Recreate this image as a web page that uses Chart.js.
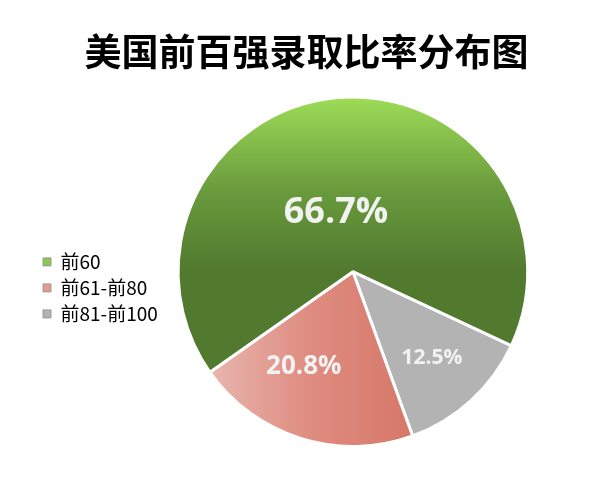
<!DOCTYPE html>
<html>
<head>
<meta charset="utf-8">
<script src="https://cdn.jsdelivr.net/npm/chart.js@4.4.1/dist/chart.umd.min.js"></script>
<style>
  body { margin: 0; background: #fff; }
  #wrap { width: 610px; height: 479px; }
</style>
</head>
<body>
<div id="wrap"><canvas id="myChart"></canvas></div>
<script>
// legend order
const labels = ["前60", "前61-前80", "前81-前100"];
const values = [66.7, 20.8, 12.5];
const legendColors = ["#8cc84e", "#e39a90", "#b3b3b3"];

// Excel draws these counter-clockwise, so feed them reversed
const drawLabels = labels.slice().reverse();
const drawValues = values.slice().reverse();
const drawLegend = legendColors.slice().reverse();

// label spots: fraction of radius, angle shift (deg)
const labelSpots = [[0.67, 0], [0.61, 10], [0.35, -11]];
const labelFonts = [21, 26, 36];

const ctx = document.getElementById("myChart").getContext("2d");

function sliceColor(context) {
  const chart = context.chart;
  const area = chart.chartArea;
  if (!area) return "#b3b3b3";
  const c = chart.ctx;
  const i = context.dataIndex;
  if (i === 0) return "#b3b3b3";
  if (i === 1) {
    const g = c.createLinearGradient(205, 0, 410, 0);
    g.addColorStop(0, "#e9b7b1");
    g.addColorStop(0.5, "#df8d81");
    g.addColorStop(1, "#d6786a");
    return g;
  }
  const g = c.createLinearGradient(0, area.top, 0, area.top + 175);
  g.addColorStop(0, "#9edd58");
  g.addColorStop(0.55, "#699a3c");
  g.addColorStop(1, "#517a2e");
  return g;
}

// title sits over the whole canvas, not just the padded part
const wideTitle = {
  id: "wideTitle",
  afterLayout(chart) {
    chart.titleBlock.left = 3;
    chart.titleBlock.right = chart.width;
  }
};

const pieLabels = {
  id: "pieLabels",
  afterDatasetsDraw(chart) {
    const c = chart.ctx;
    const meta = chart.getDatasetMeta(0);
    meta.data.forEach((arc, i) => {
      const p = arc.getProps(["x", "y", "startAngle", "endAngle", "outerRadius"], true);
      const mid = (p.startAngle + p.endAngle) / 2 + labelSpots[i][1] * Math.PI / 180;
      const r = p.outerRadius * labelSpots[i][0];
      c.save();
      c.fillStyle = "#f2f2f2";
      c.font = "bold " + labelFonts[i] + "px 'Open Sans', 'Noto Sans', sans-serif";
      c.textAlign = "center";
      c.textBaseline = "middle";
      c.fillText(drawValues[i].toFixed(1) + "%", p.x + Math.cos(mid) * r, p.y + Math.sin(mid) * r);
      c.restore();
    });
  }
};

const data = {
  labels: drawLabels,
  datasets: [{
    data: drawValues,
    backgroundColor: sliceColor,
    borderColor: "#ffffff",
    borderWidth: 3,
    hoverOffset: 0
  }]
};

const config = {
  type: "pie",
  data: data,
  plugins: [wideTitle, pieLabels],
  options: {
    responsive: true,
    maintainAspectRatio: false,
    animation: false,
    rotation: 115,
    layout: { padding: { left: 36, right: 72, top: 0, bottom: 31 } },
    plugins: {
      tooltip: { enabled: false },
      title: {
        display: true,
        text: "美国前百强录取比率分布图",
        color: "#000",
        font: { family: "'Noto Sans CJK SC'", size: 37, weight: "bold" },
        padding: { top: 30, bottom: 21 }
      },
      legend: {
        position: "left",
        align: "start",
        reverse: true,
        title: { display: true, text: "", font: { size: 12 }, padding: { top: 231, bottom: 0 } },
        labels: {
          boxWidth: 8,
          boxHeight: 8,
          padding: 7,
          color: "#000",
          font: { family: "'Noto Sans CJK SC'", size: 19 },
          generateLabels(chart) {
            const items = Chart.overrides.pie.plugins.legend.labels.generateLabels(chart);
            items.forEach((it, i) => {
              it.fillStyle = drawLegend[i];
              it.strokeStyle = "#9a9a9a";
              it.lineWidth = 1;
            });
            return items;
          }
        }
      }
    }
  }
};

const myChart = new Chart(ctx, config);
</script>
</body>
</html>
